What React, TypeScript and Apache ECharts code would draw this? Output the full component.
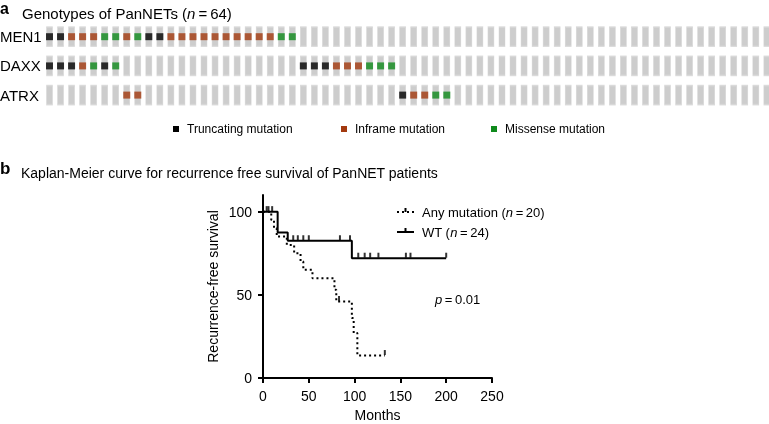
import React, { useEffect, useRef } from "react";
import * as echarts from "echarts";

const FONT = '"Liberation Sans", Arial, Helvetica, sans-serif';

// Panel a: oncoprint
const columnCount = 66;
const genes = ["MEN1", "DAXX", "ATRX"];
const truncatingCols = [[0, 1, 9, 10], [0, 1, 2, 5, 23, 24, 25], [32]];
const inframeCols = [
  [2, 3, 4, 7, 11, 12, 13, 14, 15, 16, 17, 18, 19, 20],
  [3, 26, 27, 28],
  [7, 8, 33, 34],
];
const missenseCols = [[5, 6, 8, 21, 22], [4, 6, 29, 30, 31], [35, 36]];
const mutationLabels = ["Truncating mutation", "Inframe mutation", "Missense mutation"];
const mutationColors = ["#000000", "#a3390f", "#0f8a1c"];

// Panel b: Kaplan-Meier
const wtCurve = [[0, 100], [16, 87.5], [27, 82.5], [97, 72], [200, 72]];
const wtCensored = [
  [6, 100], [10, 100], [33, 82.5], [38, 82.5], [44, 82.5], [50, 82.5], [84, 82.5], [95, 82.5],
  [104, 72], [111, 72], [117, 72], [126, 72], [156, 72], [161, 72], [200, 72],
];
const mutCurve = [
  [0, 100], [9, 95], [12, 90], [15, 85], [26, 80], [34, 75], [41, 70], [44, 65], [54, 60],
  [78, 53], [80, 46], [97, 36], [99, 27], [103, 13.5], [133, 13.5],
];
const mutCensored = [[4, 100], [83, 46], [133, 13.5]];
const xTicks = [0, 50, 100, 150, 200, 250];
const yTicks = [0, 50, 100];

function toPoints(colsByRow: number[][]) {
  const out: number[][] = [];
  colsByRow.forEach((cols, r) => cols.forEach((c) => out.push([c, r])));
  return out;
}

export default function App() {
  const ref = useRef<HTMLDivElement>(null);
  useEffect(() => {
    if (!ref.current) return;
    const chart = echarts.init(ref.current, null, { renderer: "svg" });
    const bg: number[][] = [];
    for (let r = 0; r < genes.length; r++) for (let c = 0; c < columnCount; c++) bg.push([c, r]);
    const mutSets = [truncatingCols, inframeCols, missenseCols];

    const graphic: any[] = [
      { type: "text", x: 0, y: 0, style: { text: "a", font: `bold 16px ${FONT}`, fill: "#000", verticalAlign: "top" } },
      {
        type: "text", x: 22, y: 13,
        style: {
          text: "Genotypes of PanNETs ({i|n}\u2009=\u200964)", font: `15px ${FONT}`, fill: "#000", verticalAlign: "middle",
          rich: { i: { fontStyle: "italic", fontSize: 15, fontFamily: FONT } },
        },
      },
      ...genes.map((g, i) => ({
        type: "text", x: 0, y: [36.7, 65.5, 95][i],
        style: { text: g, font: `15px ${FONT}`, fill: "#000", verticalAlign: "middle" },
      })),
      ...mutationLabels.flatMap((lab, i) => {
        const sx = [173, 341, 491][i];
        return [
          { type: "rect", shape: { x: sx, y: 126, width: 6, height: 6 }, style: { fill: mutationColors[i] } },
          { type: "text", x: sx + 14, y: 129, style: { text: lab, font: `12px ${FONT}`, fill: "#000", verticalAlign: "middle" } },
        ];
      }),
      { type: "text", x: 0, y: 168, style: { text: "b", font: `bold 17px ${FONT}`, fill: "#000", verticalAlign: "middle" } },
      {
        type: "text", x: 21, y: 173,
        style: { text: "Kaplan-Meier curve for recurrence free survival of PanNET patients", font: `14px ${FONT}`, fill: "#000", verticalAlign: "middle" },
      },
      { type: "line", shape: { x1: 397, y1: 212, x2: 414, y2: 212 }, style: { stroke: "#000", lineWidth: 2, lineDash: [2, 3] } },
      { type: "rect", shape: { x: 404.5, y: 208, width: 2, height: 4 }, style: { fill: "#000" } },
      {
        type: "text", x: 422, y: 212,
        style: {
          text: "Any mutation ({i|n}\u2009=\u200920)", font: `13px ${FONT}`, fill: "#000", verticalAlign: "middle",
          rich: { i: { fontStyle: "italic", fontSize: 13, fontFamily: FONT } },
        },
      },
      { type: "line", shape: { x1: 397, y1: 232, x2: 414, y2: 232 }, style: { stroke: "#000", lineWidth: 2 } },
      { type: "rect", shape: { x: 404.5, y: 228, width: 2, height: 4 }, style: { fill: "#000" } },
      {
        type: "text", x: 422, y: 232,
        style: {
          text: "WT ({i|n}\u2009=\u200924)", font: `13px ${FONT}`, fill: "#000", verticalAlign: "middle",
          rich: { i: { fontStyle: "italic", fontSize: 13, fontFamily: FONT } },
        },
      },
      {
        type: "text", x: 435, y: 299,
        style: {
          text: "{i|p}\u2009=\u20090.01", font: `13px ${FONT}`, fill: "#000", verticalAlign: "middle",
          rich: { i: { fontStyle: "italic", fontSize: 13, fontFamily: FONT } },
        },
      },
    ];

    const axisCommon = {
      axisLine: { show: true, lineStyle: { color: "#000", width: 2 } },
      axisTick: { show: true, length: 5, lineStyle: { color: "#000", width: 2 } },
      splitLine: { show: false },
    };

    chart.setOption({
      animation: false,
      textStyle: { fontFamily: FONT },
      graphic,
      grid: [
        { left: 43.98, width: 728.4, top: 22.1, height: 87.6, outerBoundsMode: "none", containLabel: false },
        { left: 263, width: 229, top: 195, height: 183, outerBoundsMode: "none", containLabel: false },
      ],
      xAxis: [
        { gridIndex: 0, type: "value", min: -0.5, max: columnCount - 0.5, show: false },
        {
          gridIndex: 1, type: "value", min: 0, max: 250, interval: 50, ...axisCommon,
          axisTick: { ...axisCommon.axisTick, customValues: xTicks },
          axisLabel: { color: "#000", fontSize: 14, margin: 11, customValues: xTicks },
          name: "Months", nameLocation: "middle", nameGap: 30, nameTextStyle: { color: "#000", fontSize: 14 },
        },
      ],
      yAxis: [
        { gridIndex: 0, type: "value", min: -0.5, max: genes.length - 0.5, inverse: true, show: false },
        {
          gridIndex: 1, type: "value", min: 0, max: 110, interval: 50, ...axisCommon,
          axisTick: { ...axisCommon.axisTick, customValues: yTicks },
          axisLabel: { color: "#000", fontSize: 14, margin: 11, customValues: yTicks },
          name: "Recurrence-free survival", nameLocation: "middle", nameGap: 43,
          nameTextStyle: { color: "#000", fontSize: 14 },
        },
      ],
      series: [
        {
          type: "scatter", xAxisIndex: 0, yAxisIndex: 0, data: bg, symbol: "rect", symbolSize: [6, 19],
          itemStyle: { color: "#c0c0c0", borderColor: "#d6d6d6", borderWidth: 1 }, silent: true,
        },
        ...mutSets.map((set, i) => ({
          type: "scatter", xAxisIndex: 0, yAxisIndex: 0, data: toPoints(set), symbol: "rect",
          symbolSize: [7, 7], itemStyle: { color: mutationColors[i] }, z: 3, silent: true,
        })),
        {
          type: "line", xAxisIndex: 1, yAxisIndex: 1, data: mutCurve, step: "end", symbol: "none",
          lineStyle: { color: "#000", width: 2, type: [2, 3] }, silent: true,
        },
        {
          type: "line", xAxisIndex: 1, yAxisIndex: 1, data: wtCurve, step: "end", symbol: "none",
          lineStyle: { color: "#000", width: 2 }, silent: true,
        },
        {
          type: "scatter", xAxisIndex: 1, yAxisIndex: 1, data: [...wtCensored, ...mutCensored],
          symbol: "rect", symbolSize: [2, 5], symbolOffset: [0, -3], itemStyle: { color: "#000" }, z: 4, silent: true,
        },
      ],
    });
    return () => chart.dispose();
  }, []);
  return <div ref={ref} style={{ position: "fixed", left: 0, top: 0, width: 769, height: 424 }} />;
}
